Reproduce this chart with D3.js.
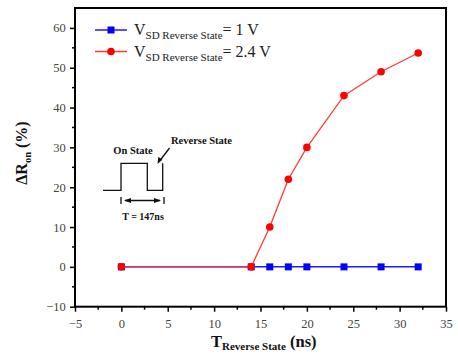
<!DOCTYPE html>
<html>
<head>
<meta charset="utf-8">
<script src="https://cdn.jsdelivr.net/npm/d3@7/dist/d3.min.js"></script>
<style>
  html, body { margin: 0; padding: 0; background: #fff; }
  svg { display: block; }
  text { font-family: "Liberation Serif", "Times New Roman", serif; }
</style>
</head>
<body>
<svg id="chart" width="458" height="359"></svg>
<script>
// Reverse-state duration (ns) and on-resistance change (%)
const tReverse = [0, 14, 16, 18, 20, 24, 28, 32];
const dRon1V = [0, 0, 0, 0, 0, 0, 0, 0];
const dRon24V = [0, 0, 10, 22, 30, 43, 49, 53.7];
const xTicks = [-5, 0, 5, 10, 15, 20, 25, 30, 35];
const yTicks = [-10, 0, 10, 20, 30, 40, 50, 60];
const seriesLabels = ["= 1 V", "= 2.4 V"];

const svg = d3.select("#chart");
const L = 75, R = 446, T = 8, B = 306.7;

const x = d3.scaleLinear().domain([-5, 35]).range([L, R]);
const y = d3.scaleLinear().domain([-10, 65]).range([B, T]);

// Axes with outward ticks
const xAxis = d3.axisBottom(x).tickValues(xTicks).tickSize(5).tickSizeOuter(0).tickFormat(d => d < 0 ? "\u2212" + Math.abs(d) : d);
const yAxis = d3.axisLeft(y).tickValues(yTicks).tickSize(5).tickSizeOuter(0).tickFormat(d => d < 0 ? "\u2212" + Math.abs(d) : d);

const gx = svg.append("g").attr("transform", `translate(0,${B})`).call(xAxis);
const gy = svg.append("g").attr("transform", `translate(${L},0)`).call(yAxis);
[gx, gy].forEach(g => {
  g.select(".domain").remove();
  g.selectAll(".tick line").attr("stroke", "#000").attr("stroke-width", 1.5);
  g.selectAll(".tick text").attr("font-size", 12.5).attr("fill", "#444")
    .attr("font-family", "Liberation Serif, serif");
});
gx.selectAll(".tick text").attr("dy", "1.1em");
gy.selectAll(".tick text").attr("dx", "-0.1em");

// Minor ticks
const xMinor = d3.range(-2.5, 35, 5);
const yMinor = d3.range(-5, 65, 10);
svg.append("g").selectAll("line").data(xMinor).join("line")
  .attr("x1", d => x(d)).attr("x2", d => x(d)).attr("y1", B).attr("y2", B + 3)
  .attr("stroke", "#000").attr("stroke-width", 1.5);
svg.append("g").selectAll("line").data(yMinor).join("line")
  .attr("y1", d => y(d)).attr("y2", d => y(d)).attr("x1", L).attr("x2", L - 3)
  .attr("stroke", "#000").attr("stroke-width", 1.5);

// Frame
svg.append("rect").attr("x", L).attr("y", T).attr("width", R - L).attr("height", B - T)
  .attr("fill", "none").attr("stroke", "#000").attr("stroke-width", 2);

// Series
const line = d3.line().x(d => x(d[0])).y(d => y(d[1]));
const blueData = tReverse.map((t, i) => [t, dRon1V[i]]);
const redData = tReverse.map((t, i) => [t, dRon24V[i]]);

svg.append("path").datum(blueData).attr("d", line)
  .attr("fill", "none").attr("stroke", "#1a1aff").attr("stroke-width", 1.5);
svg.append("g").selectAll("rect").data(blueData).join("rect")
  .attr("x", d => x(d[0]) - 3.5).attr("y", d => y(d[1]) - 3.5)
  .attr("width", 7).attr("height", 7).attr("fill", "#0000ff");

svg.append("path").datum(redData).attr("d", line)
  .attr("fill", "none").attr("stroke", "#ff3b3b").attr("stroke-width", 1.3);
svg.append("g").selectAll("circle").data(redData).join("circle")
  .attr("cx", d => x(d[0])).attr("cy", d => y(d[1])).attr("r", 3.8).attr("fill", "#ff0000");

// Legend
const legend = svg.append("g");
const legRows = [{c: "#1a1aff", m: "square", yy: 30}, {c: "#ff3b3b", m: "circle", yy: 51.5}];
legRows.forEach((r, i) => {
  legend.append("line").attr("x1", 95).attr("x2", 127).attr("y1", r.yy).attr("y2", r.yy)
    .attr("stroke", r.c).attr("stroke-width", 1.5);
  if (r.m === "square") {
    legend.append("rect").attr("x", 111 - 3.5).attr("y", r.yy - 3.5).attr("width", 7).attr("height", 7).attr("fill", "#0000ff");
  } else {
    legend.append("circle").attr("cx", 111).attr("cy", r.yy).attr("r", 3.8).attr("fill", "#ff0000");
  }
  const t = legend.append("text").attr("x", 134).attr("y", r.yy + 5).attr("font-size", 16).attr("fill", "#222");
  t.append("tspan").text("V");
  t.append("tspan").attr("font-size", 11).attr("dy", 4).text("SD Reverse State");
  t.append("tspan").attr("dy", -4).text(seriesLabels[i]);
});

// Axis titles
const yt = svg.append("text").attr("transform", "translate(27,153) rotate(-90)")
  .attr("text-anchor", "middle").attr("font-weight", "bold").attr("font-size", 16).attr("fill", "#111");
yt.append("tspan").text("\u0394R");
yt.append("tspan").attr("font-size", 10.5).attr("dy", 4).text("on");
yt.append("tspan").attr("dy", -4).text(" (%)");

const xt = svg.append("text").attr("x", 211).attr("y", 347)
  .attr("font-weight", "bold").attr("font-size", 16.5).attr("fill", "#111");
xt.append("tspan").text("T");
xt.append("tspan").attr("font-size", 11).attr("dy", 3).text("Reverse State");
xt.append("tspan").attr("dy", -3).text(" (ns)");

// Inset: pulse waveform sketch
const inset = svg.append("g").attr("stroke", "#111").attr("fill", "none").attr("stroke-width", 1.3);
inset.append("path").attr("d", "M103,190.3 H121 V163.3 H147.3 V190.3 H162.7 V163.3");
inset.append("line").attr("x1", 121).attr("x2", 121).attr("y1", 197).attr("y2", 204);
inset.append("line").attr("x1", 164).attr("x2", 164).attr("y1", 197).attr("y2", 204);
inset.append("line").attr("x1", 125).attr("x2", 160).attr("y1", 200.5).attr("y2", 200.5);
inset.append("line").attr("x1", 169.5).attr("y1", 148).attr("x2", 160).attr("y2", 160.5);
const heads = svg.append("g").attr("fill", "#111");
heads.append("path").attr("d", "M124,200.5 L131,198 L131,203 Z");
heads.append("path").attr("d", "M161,200.5 L154,198 L154,203 Z");
heads.append("path").attr("d", "M157.5,164 L158.3,156.8 L162.3,159.8 Z");

const insetText = svg.append("g").attr("font-weight", "bold").attr("font-size", 10.5).attr("fill", "#111");
insetText.append("text").attr("x", 133).attr("y", 154).attr("text-anchor", "middle").text("On State");
insetText.append("text").attr("x", 171).attr("y", 144).text("Reverse State");
insetText.append("text").attr("x", 143).attr("y", 220).attr("text-anchor", "middle").attr("font-size", 10).text("T = 147ns");
</script>
</body>
</html>
